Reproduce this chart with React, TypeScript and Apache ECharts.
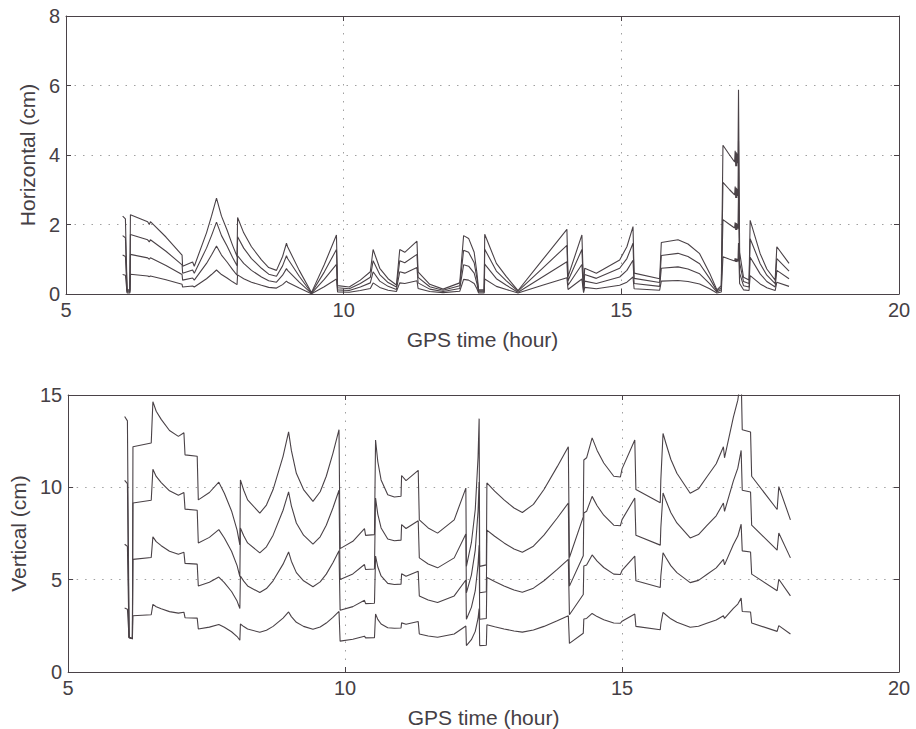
import React, { useEffect, useRef } from "react";
import * as echarts from "echarts";

// Horizontal error curves (cm), one time base shared by four curves
const horizTime = [
  6.02, 6.07, 6.10, 6.15, 6.16, 6.47, 6.50, 6.52, 6.80, 7.09,
  7.10, 7.28, 7.31, 7.53, 7.62, 7.71, 7.80, 7.90, 8.00, 8.08,
  8.09, 8.20, 8.34, 8.52, 8.65, 8.79, 8.90, 8.97, 8.99, 9.20,
  9.42, 9.65, 9.87, 9.89, 10.10, 10.30, 10.48, 10.53, 10.65, 10.80,
  10.95, 11.01, 11.10, 11.32, 11.34, 11.55, 11.79, 12.09, 12.16, 12.25,
  12.35, 12.40, 12.43, 12.53, 12.54, 12.75, 12.93, 13.14, 13.58, 14.02,
  14.04, 14.29, 14.32, 14.34, 14.55, 14.97, 15.10, 15.21, 15.23, 15.69,
  15.72, 16.02, 16.20, 16.41, 16.59, 16.72, 16.80, 16.83, 16.95, 17.04,
  17.05, 17.06, 17.07, 17.08, 17.09, 17.10, 17.11, 17.13, 17.20, 17.30,
  17.32, 17.50, 17.62, 17.77, 17.80, 18.02,
];
const horiz1 = [
  0.56, 0.54, 0.03, 0.03, 0.57, 0.52, 0.50, 0.52, 0.41, 0.28,
  0.20, 0.23, 0.20, 0.44, 0.56, 0.69, 0.56, 0.46, 0.35, 0.27,
  0.55, 0.44, 0.34, 0.25, 0.19, 0.17, 0.27, 0.37, 0.34, 0.17,
  0.01, 0.21, 0.43, 0.06, 0.05, 0.10, 0.16, 0.32, 0.19, 0.11,
  0.07, 0.32, 0.30, 0.38, 0.16, 0.07, 0.04, 0.08, 0.42, 0.40,
  0.30, 0.15, 0.03, 0.03, 0.43, 0.22, 0.13, 0.03, 0.25, 0.47,
  0.13, 0.43, 0.04, 0.19, 0.15, 0.25, 0.34, 0.49, 0.15, 0.11,
  0.37, 0.39, 0.36, 0.29, 0.15, 0.03, 0.06, 1.07, 1.00, 0.95,
  1.03, 0.92, 1.02, 0.92, 1.01, 0.94, 1.47, 0.30, 0.12, 0.10,
  0.53, 0.29, 0.18, 0.10, 0.34, 0.22,
];
const horiz2 = [
  1.12, 1.08, 0.06, 0.06, 1.14, 1.04, 1.00, 1.04, 0.82, 0.56,
  0.40, 0.46, 0.40, 0.88, 1.12, 1.38, 1.12, 0.92, 0.70, 0.54,
  1.10, 0.88, 0.68, 0.49, 0.38, 0.34, 0.54, 0.73, 0.68, 0.34,
  0.02, 0.42, 0.85, 0.12, 0.10, 0.20, 0.32, 0.64, 0.37, 0.22,
  0.13, 0.64, 0.60, 0.76, 0.32, 0.14, 0.07, 0.16, 0.84, 0.80,
  0.60, 0.30, 0.06, 0.06, 0.86, 0.44, 0.25, 0.05, 0.49, 0.93,
  0.25, 0.85, 0.08, 0.37, 0.30, 0.49, 0.68, 0.97, 0.30, 0.22,
  0.74, 0.78, 0.72, 0.58, 0.30, 0.06, 0.12, 2.14, 2.00, 1.90,
  2.06, 1.84, 2.04, 1.84, 2.02, 1.88, 2.94, 0.60, 0.24, 0.20,
  1.06, 0.58, 0.36, 0.20, 0.68, 0.44,
];
const horiz3 = [
  1.68, 1.62, 0.09, 0.09, 1.71, 1.56, 1.50, 1.56, 1.23, 0.84,
  0.60, 0.69, 0.60, 1.32, 1.68, 2.07, 1.68, 1.38, 1.05, 0.81,
  1.65, 1.32, 1.02, 0.74, 0.57, 0.51, 0.81, 1.10, 1.02, 0.51,
  0.03, 0.63, 1.28, 0.18, 0.15, 0.30, 0.48, 0.96, 0.56, 0.33,
  0.20, 0.96, 0.90, 1.14, 0.48, 0.21, 0.11, 0.24, 1.26, 1.20,
  0.90, 0.45, 0.09, 0.09, 1.29, 0.66, 0.38, 0.08, 0.74, 1.40,
  0.38, 1.28, 0.12, 0.56, 0.45, 0.74, 1.02, 1.46, 0.45, 0.33,
  1.11, 1.17, 1.08, 0.87, 0.45, 0.09, 0.18, 3.21, 3.00, 2.85,
  3.09, 2.76, 3.06, 2.76, 3.03, 2.82, 4.41, 0.90, 0.36, 0.30,
  1.59, 0.87, 0.54, 0.30, 1.02, 0.66,
];
const horiz4 = [
  2.24, 2.16, 0.12, 0.12, 2.28, 2.08, 2.00, 2.08, 1.64, 1.12,
  0.80, 0.92, 0.80, 1.76, 2.24, 2.76, 2.24, 1.84, 1.40, 1.08,
  2.20, 1.76, 1.36, 0.98, 0.76, 0.68, 1.08, 1.46, 1.36, 0.68,
  0.04, 0.84, 1.70, 0.24, 0.20, 0.40, 0.64, 1.28, 0.74, 0.44,
  0.26, 1.28, 1.20, 1.52, 0.64, 0.28, 0.14, 0.32, 1.68, 1.60,
  1.20, 0.60, 0.12, 0.12, 1.72, 0.88, 0.50, 0.10, 0.98, 1.86,
  0.50, 1.70, 0.16, 0.74, 0.60, 0.98, 1.36, 1.94, 0.60, 0.44,
  1.48, 1.56, 1.44, 1.16, 0.60, 0.12, 0.24, 4.28, 4.00, 3.80,
  4.12, 3.68, 4.08, 3.68, 4.04, 3.76, 5.88, 1.20, 0.48, 0.40,
  2.12, 1.16, 0.72, 0.40, 1.36, 0.88,
];

// Vertical error curves (cm)
const vertTime = [
  6.02, 6.07, 6.10, 6.16, 6.17, 6.50, 6.53, 6.59, 6.68, 6.83,
  6.99, 7.09, 7.11, 7.33, 7.35, 7.55, 7.72, 7.82, 7.95, 8.05,
  8.10, 8.11, 8.17, 8.24, 8.46, 8.58, 8.70, 8.88, 8.98, 9.03,
  9.12, 9.25, 9.42, 9.55, 9.66, 9.78, 9.89, 9.91, 10.14, 10.35,
  10.37, 10.53, 10.55, 10.59, 10.65, 10.77, 10.89, 11.01, 11.02, 11.10,
  11.32, 11.34, 11.50, 11.67, 11.97, 12.18, 12.19, 12.28, 12.35, 12.40, 12.42,
  12.43, 12.55, 12.56, 12.70, 12.87, 13.05, 13.20, 13.40, 13.59, 13.83,
  14.03, 14.05, 14.30, 14.31, 14.36, 14.46, 14.55, 14.67, 14.85, 14.97,
  15.00, 15.23, 15.25, 15.69, 15.70, 15.74, 15.79, 15.88, 15.99, 16.23,
  16.38, 16.53, 16.70, 16.83, 16.85, 17.01, 17.09, 17.15, 17.17, 17.32,
  17.34, 17.80, 17.83, 18.04,
];
const vert1 = [
  3.46, 3.40, 1.85, 1.80, 3.05, 3.10, 3.66, 3.53, 3.42, 3.27,
  3.19, 3.24, 2.94, 2.92, 2.33, 2.43, 2.57, 2.42, 2.18, 1.92,
  1.72, 2.60, 2.46, 2.33, 2.15, 2.26, 2.47, 2.92, 3.25, 3.00,
  2.69, 2.47, 2.31, 2.44, 2.65, 2.96, 3.28, 1.67, 1.77, 1.94,
  1.85, 1.86, 3.14, 2.85, 2.60, 2.40, 2.37, 2.38, 2.66, 2.59,
  2.73, 2.06, 1.95, 1.88, 2.06, 2.49, 1.43, 1.75, 2.20, 2.90, 3.43,
  1.43, 1.45, 2.56, 2.45, 2.33, 2.22, 2.16, 2.27, 2.47, 2.78,
  3.05, 1.55, 2.10, 2.87, 2.90, 3.17, 3.00, 2.83, 2.65, 2.64,
  2.75, 3.14, 2.47, 2.29, 2.60, 3.23, 3.10, 2.88, 2.69, 2.42,
  2.48, 2.64, 2.82, 3.05, 2.90, 3.45, 3.68, 4.00, 3.28, 3.25,
  2.65, 2.20, 2.51, 2.06,
];
const vert2 = [
  6.92, 6.80, 1.85, 1.80, 6.10, 6.20, 7.32, 7.06, 6.84, 6.54,
  6.38, 6.48, 5.88, 5.84, 4.66, 4.86, 5.14, 4.84, 4.36, 3.84,
  3.44, 5.20, 4.92, 4.66, 4.30, 4.52, 4.94, 5.84, 6.50, 6.00,
  5.38, 4.94, 4.62, 4.88, 5.30, 5.92, 6.56, 3.34, 3.54, 3.88,
  3.70, 3.72, 6.28, 5.70, 5.20, 4.80, 4.74, 4.76, 5.32, 5.18,
  5.46, 4.12, 3.90, 3.76, 4.12, 4.98, 2.86, 3.50, 4.40, 5.80, 6.86,
  2.86, 2.90, 5.12, 4.90, 4.66, 4.44, 4.32, 4.54, 4.94, 5.56,
  6.10, 3.10, 4.20, 5.74, 5.80, 6.34, 6.00, 5.66, 5.30, 5.28,
  5.50, 6.28, 4.94, 4.58, 5.20, 6.46, 6.20, 5.76, 5.38, 4.84,
  4.96, 5.28, 5.64, 6.10, 5.80, 6.90, 7.36, 8.00, 6.56, 6.50,
  5.30, 4.40, 5.02, 4.12,
];
const vert3 = [
  10.38, 10.20, 1.90, 1.80, 9.15, 9.30, 10.98, 10.59, 10.26, 9.81,
  9.57, 9.72, 8.82, 8.76, 6.99, 7.29, 7.71, 7.26, 6.54, 5.76,
  5.16, 7.80, 7.38, 6.99, 6.45, 6.78, 7.41, 8.76, 9.75, 9.00,
  8.07, 7.41, 6.93, 7.32, 7.95, 8.88, 9.84, 5.01, 5.31, 5.82,
  5.55, 5.58, 9.42, 8.55, 7.80, 7.20, 7.11, 7.14, 7.98, 7.77,
  8.19, 6.18, 5.85, 5.64, 6.18, 7.47, 4.29, 5.25, 6.60, 8.70, 10.29,
  4.29, 4.35, 7.68, 7.35, 6.99, 6.66, 6.48, 6.81, 7.41, 8.34,
  9.15, 4.65, 6.30, 8.61, 8.70, 9.51, 9.00, 8.49, 7.95, 7.92,
  8.25, 9.42, 7.41, 6.87, 7.80, 9.69, 9.30, 8.64, 8.07, 7.26,
  7.44, 7.92, 8.46, 9.15, 8.70, 10.35, 11.04, 12.00, 9.84, 9.75,
  7.95, 6.60, 7.53, 6.18,
];
const vert4 = [
  13.84, 13.60, 1.90, 1.80, 12.20, 12.40, 14.64, 14.12, 13.68, 13.08,
  12.76, 12.96, 11.76, 11.68, 9.32, 9.72, 10.28, 9.68, 8.72, 7.68,
  6.88, 10.40, 9.84, 9.32, 8.60, 9.04, 9.88, 11.68, 13.00, 12.00,
  10.76, 9.88, 9.24, 9.76, 10.60, 11.84, 13.12, 6.68, 7.08, 7.76,
  7.40, 7.44, 12.56, 11.40, 10.40, 9.60, 9.48, 9.52, 10.64, 10.36,
  10.92, 8.24, 7.80, 7.52, 8.24, 9.96, 5.72, 7.00, 8.80, 11.60, 13.72,
  5.72, 5.80, 10.24, 9.80, 9.32, 8.88, 8.64, 9.08, 9.88, 11.12,
  12.20, 6.20, 8.40, 11.48, 11.60, 12.68, 12.00, 11.32, 10.60, 10.56,
  11.00, 12.56, 9.88, 9.16, 10.40, 12.92, 12.40, 11.52, 10.76, 9.68,
  9.92, 10.56, 11.28, 12.20, 11.60, 13.80, 14.72, 16.00, 13.12, 13.00,
  10.60, 8.80, 10.04, 8.24,
];

const hourRange = { min: 5, max: 20, interval: 5 };
const horizRange = { min: 0, max: 8, interval: 2 };
const vertRange = { min: 0, max: 15, interval: 5 };

const INK = "#4a4247";
const TEXT = "#454045";
const FONT = "'Liberation Sans', Arial, Helvetica, sans-serif";

function pairs(t: number[], v: number[]) {
  return t.map((x, i) => [x, v[i]]);
}

export default function App() {
  const ref = useRef<HTMLDivElement>(null);

  useEffect(() => {
    if (!ref.current) return;
    const chart = echarts.init(ref.current, null, { renderer: "svg" });

    const gridLine = {
      show: true,
      lineStyle: { color: "#a0a0a0", width: 1, type: [1.5, 7] as any },
    };
    const axisLine = { show: true, onZero: false, lineStyle: { color: INK, width: 1 } };
    const tick = { show: true, inside: true, length: 5, lineStyle: { color: INK } };
    const label = { fontFamily: FONT, fontSize: 20, color: TEXT };

    const mainX = (grid: number) => ({
      type: "value" as const,
      gridIndex: grid,
      position: "bottom" as const,
      ...hourRange,
      axisLine,
      axisTick: tick,
      axisLabel: { ...label, margin: 6 },
      splitLine: gridLine,
      name: "GPS time (hour)",
      nameLocation: "middle" as const,
      nameGap: 35,
      nameTextStyle: { fontFamily: FONT, fontSize: 21, color: TEXT },
    });
    const mirrorX = (grid: number) => ({
      type: "value" as const,
      gridIndex: grid,
      position: "top" as const,
      ...hourRange,
      axisLine,
      axisTick: tick,
      axisLabel: { show: false },
      splitLine: { show: false },
    });
    const mainY = (grid: number, range: any, name: string, gap: number) => ({
      type: "value" as const,
      gridIndex: grid,
      position: "left" as const,
      ...range,
      axisLine,
      axisTick: tick,
      axisLabel: { ...label, margin: 6 },
      splitLine: gridLine,
      name,
      nameLocation: "middle" as const,
      nameGap: gap,
      nameRotate: 90,
      nameTextStyle: { fontFamily: FONT, fontSize: 21, color: TEXT },
    });
    const mirrorY = (grid: number, range: any) => ({
      type: "value" as const,
      gridIndex: grid,
      position: "right" as const,
      ...range,
      axisLine,
      axisTick: tick,
      axisLabel: { show: false },
      splitLine: { show: false },
    });

    const curve = (xi: number, yi: number, t: number[], v: number[]) => ({
      type: "line" as const,
      xAxisIndex: xi,
      yAxisIndex: yi,
      data: pairs(t, v),
      showSymbol: false,
      symbol: "none",
      clip: true,
      lineStyle: { color: INK, width: 1.1 },
      emphasis: { disabled: true },
    });

    chart.setOption({
      animation: false,
      backgroundColor: "#fff",
      grid: [
        { left: 66, right: 17, top: 16, height: 278 },
        { left: 66, right: 17, top: 395, height: 278 },
      ],
      xAxis: [mainX(0), mirrorX(0), mainX(1), mirrorX(1)],
      yAxis: [
        mainY(0, horizRange, "Horizontal (cm)", 22),
        mirrorY(0, horizRange),
        mainY(1, vertRange, "Vertical (cm)", 34),
        mirrorY(1, vertRange),
      ],
      series: [
        curve(0, 0, horizTime, horiz1),
        curve(0, 0, horizTime, horiz2),
        curve(0, 0, horizTime, horiz3),
        curve(0, 0, horizTime, horiz4),
        curve(2, 2, vertTime, vert1),
        curve(2, 2, vertTime, vert2),
        curve(2, 2, vertTime, vert3),
        curve(2, 2, vertTime, vert4),
      ],
    });

    return () => chart.dispose();
  }, []);

  return (
    <div
      style={{ position: "fixed", left: 0, top: 0, width: 916, height: 729, background: "#fff" }}
    >
      <div ref={ref} style={{ width: 916, height: 729 }} />
    </div>
  );
}
